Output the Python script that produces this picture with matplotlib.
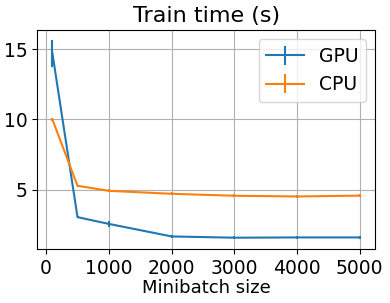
import matplotlib
matplotlib.use("Agg")
import matplotlib.pyplot as plt

# ── DATA ────────────────────────────────────────────────────────────────────
minibatch = [100, 500, 1000, 2000, 3000, 4000, 5000]

gpu_time = [14.7, 3.06, 2.58, 1.69, 1.60, 1.62, 1.62]
gpu_err  = [0.95, 0.05, 0.22, 0.10, 0.10, 0.10, 0.10]

cpu_time = [10.0, 5.29, 4.93, 4.72, 4.58, 4.53, 4.59]
cpu_err  = [0.12, 0.06, 0.10, 0.10, 0.10, 0.08, 0.08]

# ── PLOT ────────────────────────────────────────────────────────────────────
fig, ax = plt.subplots(figsize=(3.9, 3.03), dpi=100)
ax.errorbar(minibatch, gpu_time, yerr=gpu_err, label="GPU", color="#1f77b4", lw=1.5)
ax.errorbar(minibatch, cpu_time, yerr=cpu_err, label="CPU", color="#ff7f0e", lw=1.5)

ax.set_title("Train time (s)", fontsize=16)
ax.set_xlabel("Minibatch size", fontsize=13, labelpad=1)
ax.set_xticks([0, 1000, 2000, 3000, 4000, 5000])
ax.set_yticks([5, 10, 15])
ax.tick_params(labelsize=13.5)
ax.grid(True)
ax.legend(fontsize=13.5)

plt.subplots_adjust(left=0.095, right=0.962, top=0.901, bottom=0.178)
plt.savefig("out.png", dpi=100)
plt.close()
